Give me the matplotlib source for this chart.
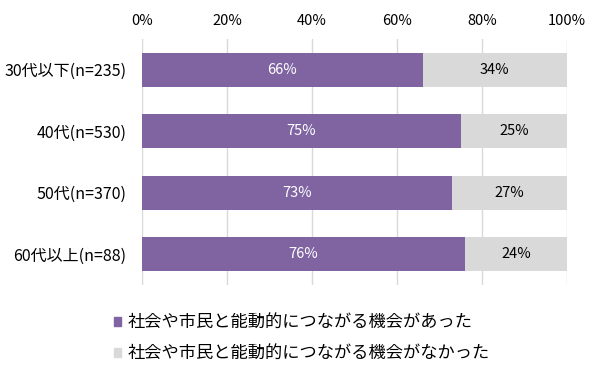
import matplotlib
matplotlib.use("Agg")
import matplotlib.pyplot as plt
from matplotlib.patches import Patch

plt.rcParams["font.family"] = ["Noto Sans CJK JP", "DejaVu Sans"]

# data
categories = ["30代以下(n=235)", "40代(n=530)", "50代(n=370)", "60代以上(n=88)"]
had_chance = [66, 75, 73, 76]
no_chance = [34, 25, 27, 24]
series_names = ["社会や市民と能動的につながる機会があった",
                "社会や市民と能動的につながる機会がなかった"]
xticks = [0, 20, 40, 60, 80, 100]

PURPLE = "#8064A2"
GRAY = "#D9D9D9"

fig = plt.figure(figsize=(6.0, 3.72), dpi=100)
ax = fig.add_axes([0.2367, 0.2339, 0.7083, 0.6613])

y = list(range(len(categories)))
ax.barh(y, had_chance, height=0.55, color=PURPLE, zorder=2)
ax.barh(y, no_chance, left=had_chance, height=0.55, color=GRAY, zorder=2)

for i in y:
    ax.text(had_chance[i] / 2, i, f"{had_chance[i]}%", ha="center", va="center",
            color="white", fontsize=10.5)
    ax.text(had_chance[i] + no_chance[i] / 2, i, f"{no_chance[i]}%", ha="center",
            va="center", color="black", fontsize=10.5)

ax.set_xlim(0, 100)
ax.set_ylim(3.5, -0.5)
ax.set_xticks(xticks)
ax.set_xticklabels([f"{t}%" for t in xticks], fontsize=10.5)
ax.xaxis.tick_top()
ax.set_yticks(y)
ax.set_yticklabels(categories, fontsize=11.5)
ax.tick_params(length=0)
ax.tick_params(axis="y", pad=11)
ax.tick_params(axis="x", pad=8)
ax.grid(axis="x", color="#D9D9D9", linewidth=1, zorder=0)
for s in ax.spines.values():
    s.set_visible(False)

handles = [Patch(color=PURPLE), Patch(color=GRAY)]
fig.legend(handles, series_names, loc="upper left", bbox_to_anchor=(0.175, 0.18),
           frameon=False, fontsize=12.4, handlelength=0.45, handleheight=0.45,
           handletextpad=0.35, labelspacing=0.75, borderpad=0)

fig.savefig("out.png", dpi=100)
